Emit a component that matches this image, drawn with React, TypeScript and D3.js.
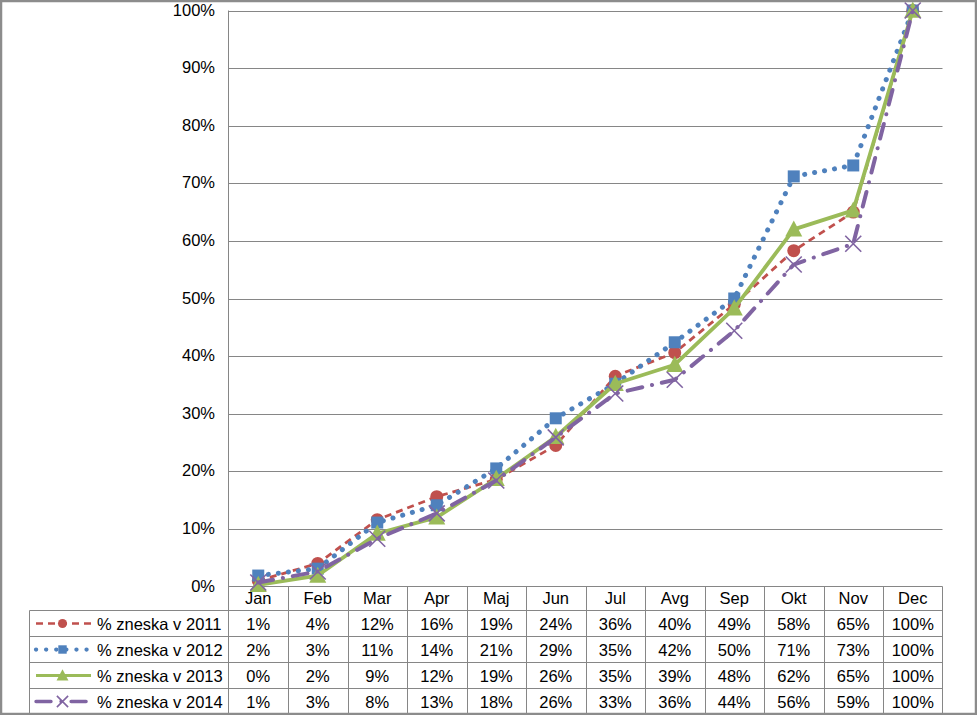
import React from "react";
import * as d3 from "d3";

const categories = ["Jan", "Feb", "Mar", "Apr", "Maj", "Jun", "Jul", "Avg", "Sep", "Okt", "Nov", "Dec"];
const seriesNames = ["% zneska v 2011", "% zneska v 2012", "% zneska v 2013", "% zneska v 2014"];
const values2011 = [0.010, 0.040, 0.116, 0.156, 0.186, 0.245, 0.365, 0.406, 0.490, 0.583, 0.650, 1.0];
const values2012 = [0.019, 0.031, 0.111, 0.141, 0.205, 0.292, 0.352, 0.424, 0.500, 0.712, 0.731, 1.0];
const values2013 = [0.003, 0.019, 0.092, 0.120, 0.187, 0.260, 0.352, 0.385, 0.483, 0.620, 0.653, 1.0];
const values2014 = [0.007, 0.026, 0.083, 0.127, 0.184, 0.259, 0.335, 0.359, 0.444, 0.559, 0.595, 1.0];
const tableLabels = [
  ["1%", "4%", "12%", "16%", "19%", "24%", "36%", "40%", "49%", "58%", "65%", "100%"],
  ["2%", "3%", "11%", "14%", "21%", "29%", "35%", "42%", "50%", "71%", "73%", "100%"],
  ["0%", "2%", "9%", "12%", "19%", "26%", "35%", "39%", "48%", "62%", "65%", "100%"],
  ["1%", "3%", "8%", "13%", "18%", "26%", "33%", "36%", "44%", "56%", "59%", "100%"],
];
const yTicks = [0, 0.1, 0.2, 0.3, 0.4, 0.5, 0.6, 0.7, 0.8, 0.9, 1.0];

const W = 977, H = 715;
const L = 228.5, R = 942.5, T = 10.5, B = 586.5;
const rowYs = [586.5, 610.5, 636.5, 662.5, 688.5, 713];
const tableLeft = 29.5;
const FONT = "'Liberation Sans', Arial, sans-serif";
const FS = 16.5;
const GRID = "#868686";

const styles = [
  { color: "#C0504D", width: 2.8, dash: "7,5", cap: "butt", marker: "circle" },
  { color: "#4F81BD", width: 5, dash: "0.1,10", cap: "round", marker: "square" },
  { color: "#9BBB59", width: 3.8, dash: null, cap: "butt", marker: "triangle" },
  { color: "#8064A2", width: 4, dash: "15,10,0.1,10", cap: "round", marker: "x" },
];

function Marker({ type, x, y, color, scale = 1 }: any) {
  if (type === "circle") return <circle cx={x} cy={y} r={6.5 * scale} fill={color} />;
  if (type === "square") {
    const s = 12 * scale;
    return <rect x={x - s / 2} y={y - s / 2} width={s} height={s} fill={color} />;
  }
  if (type === "triangle") {
    const s = 8.5 * scale;
    return <path d={`M${x},${y - s * 1.05}L${x + s},${y + s * 0.85}L${x - s},${y + s * 0.85}Z`} fill={color} />;
  }
  const s = 8 * scale;
  return (
    <path d={`M${x - s},${y - s}L${x + s},${y + s}M${x - s},${y + s}L${x + s},${y - s}`} stroke={color} strokeWidth={1.6} />
  );
}

export default function App() {
  const x = d3.scaleBand<string>().domain(categories).range([L, R]);
  const y = d3.scaleLinear().domain([0, 1]).range([B, T]);
  const all = [values2011, values2012, values2013, values2014];
  const line = d3.line<number>().x((_, i) => (x(categories[i]) as number) + x.bandwidth() / 2).y((d) => y(d));

  return (
    <svg width={W} height={H} style={{ position: "absolute", left: 0, top: 0, display: "block" }} fontFamily={FONT}>
      <rect x={0} y={0} width={W} height={H} fill="#fff" />
      {yTicks.map((t) => (
        <g key={t}>
          {t > 0 && <line x1={L} x2={R} y1={Math.round(y(t)) + 0.5} y2={Math.round(y(t)) + 0.5} stroke={GRID} strokeWidth={1} />}
          <text x={215} y={y(t) + 5} textAnchor="end" fontSize={FS} fill="#000">{d3.format(".0%")(t)}</text>
        </g>
      ))}
      {/* table grid */}
      <line x1={L} x2={L} y1={T} y2={rowYs[5]} stroke={GRID} />
      <line x1={R} x2={R} y1={rowYs[0]} y2={rowYs[5]} stroke={GRID} />
      {categories.map((c, i) => i > 0 && (
        <line key={c} x1={Math.round(x(c) as number) + 0.5} x2={Math.round(x(c) as number) + 0.5} y1={rowYs[0]} y2={rowYs[5]} stroke={GRID} />
      ))}
      <line x1={L} x2={R} y1={rowYs[0]} y2={rowYs[0]} stroke={GRID} />
      {rowYs.slice(1, 5).map((ry) => (
        <line key={ry} x1={tableLeft} x2={R} y1={ry} y2={ry} stroke={GRID} />
      ))}
      <line x1={tableLeft} x2={tableLeft} y1={rowYs[1]} y2={rowYs[5]} stroke={GRID} />
      {categories.map((c) => (
        <text key={c} x={(x(c) as number) + x.bandwidth() / 2} y={604} textAnchor="middle" fontSize={FS}>{c}</text>
      ))}
      {tableLabels.map((row, r) => (
        <g key={r}>
          {row.map((v, i) => (
            <text key={i} x={(x(categories[i]) as number) + x.bandwidth() / 2} y={rowYs[r + 1] + 19} textAnchor="middle" fontSize={FS}>{v}</text>
          ))}
          <text x={97} y={rowYs[r + 1] + 19} fontSize={FS}>{seriesNames[r]}</text>
          <line x1={36} x2={91} y1={rowYs[r + 1] + 13} y2={rowYs[r + 1] + 13} stroke={styles[r].color} strokeWidth={styles[r].width * 0.85}
            strokeDasharray={styles[r].dash || undefined} strokeLinecap={styles[r].cap as any} />
          <Marker type={styles[r].marker} x={62.5} y={rowYs[r + 1] + 13} color={styles[r].color} scale={0.7} />
        </g>
      ))}
      {/* series */}
      {all.map((vals, s) => (
        <g key={s}>
          <path d={line(vals) as string} fill="none" stroke={styles[s].color} strokeWidth={styles[s].width}
            strokeDasharray={styles[s].dash || undefined} strokeLinecap={styles[s].cap as any} strokeLinejoin="round" />
          {vals.map((v, i) => (
            <Marker key={i} type={styles[s].marker} x={(x(categories[i]) as number) + x.bandwidth() / 2} y={y(v)} color={styles[s].color} />
          ))}
        </g>
      ))}
      <rect x={1} y={1} width={W - 2} height={H - 2} fill="none" stroke="#8c8c8c" strokeWidth={2.5} />
    </svg>
  );
}
